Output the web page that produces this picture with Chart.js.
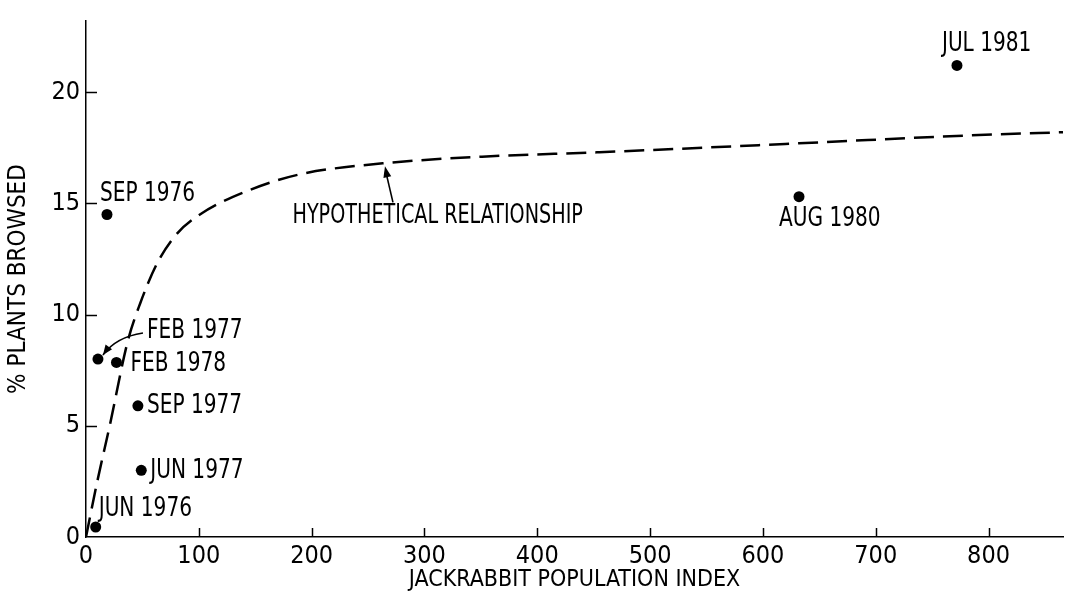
<!DOCTYPE html>
<html><head><meta charset="utf-8">
<script src="https://cdn.jsdelivr.net/npm/chart.js@4.4.1/dist/chart.umd.min.js"></script>
<style>html,body{margin:0;padding:0;background:#fff;}#wrap{width:1069px;height:614px;}</style>
</head><body><div id="wrap"><canvas id="c" width="1069" height="614"></canvas></div>
<script>
// ---- data ----
const pointLabels = ['JUN 1976', 'SEP 1976', 'FEB 1977', 'FEB 1978', 'SEP 1977', 'JUN 1977', 'AUG 1980', 'JUL 1981'];
const pointX = [8.6, 18.6, 10.6, 27, 46, 49, 632, 772];
const pointY = [0.45, 14.5, 8.0, 7.85, 5.9, 3.0, 15.3, 21.2];
const curveX = [0, 10, 21, 37, 48, 63, 80, 101, 145, 189, 263, 351, 455, 632, 780, 866];
const curveY = [0, 2.5, 5.0, 8.8, 10.5, 12.3, 13.6, 14.5, 15.6, 16.3, 16.8, 17.1, 17.3, 17.7, 18.05, 18.2];
const xTickValues = [0, 100, 200, 300, 400, 500, 600, 700, 800];
const yTickValues = [0, 5, 10, 15, 20];
const curveLabel = 'HYPOTHETICAL RELATIONSHIP';
const xTitle = 'JACKRABBIT POPULATION INDEX';
const yTitle = '% PLANTS BROWSED';

const FONT = "'Liberation Sans Narrow','DejaVu Sans Condensed','Liberation Sans',sans-serif";

function arrowHead(ctx, x, y, ang, len, w) {
  ctx.beginPath();
  ctx.moveTo(x, y);
  ctx.lineTo(x - len * Math.cos(ang) + w * Math.sin(ang), y - len * Math.sin(ang) - w * Math.cos(ang));
  ctx.lineTo(x - len * Math.cos(ang) - w * Math.sin(ang), y - len * Math.sin(ang) + w * Math.cos(ang));
  ctx.closePath();
  ctx.fill();
}

function narrowText(ctx, text, x, y, sx) {
  ctx.save();
  ctx.translate(x, y);
  ctx.scale(sx, 1);
  ctx.fillText(text, 0, 0);
  ctx.restore();
}

const inwardTicks = {
  id: 'inwardTicks',
  afterDraw(chart) {
    const {ctx, scales: {x, y}, chartArea: a} = chart;
    ctx.save();
    ctx.strokeStyle = '#000';
    ctx.lineWidth = 1.5;
    x.ticks.forEach(t => {
      if (t.value === 0) return;
      const px = Math.round(x.getPixelForValue(t.value)) + 0.5;
      ctx.beginPath(); ctx.moveTo(px, a.bottom); ctx.lineTo(px, a.bottom - 9); ctx.stroke();
    });
    y.ticks.forEach(t => {
      if (t.value === 0) return;
      const py = Math.round(y.getPixelForValue(t.value)) + 0.5;
      ctx.beginPath(); ctx.moveTo(a.left, py); ctx.lineTo(a.left + 11, py); ctx.stroke();
    });
    ctx.restore();
  }
};

const labelOffsets = {
  'JUN 1976': [3, -18], 'SEP 1976': [-7, -20], 'FEB 1977': [49, -28], 'FEB 1978': [14, 2],
  'SEP 1977': [9, 0], 'JUN 1977': [9, 1], 'AUG 1980': [-20, 23], 'JUL 1981': [-15, -21]
};

const annotations = {
  id: 'annotations',
  afterDatasetsDraw(chart) {
    const {ctx, scales: {x, y}} = chart;
    ctx.save();
    ctx.fillStyle = '#000';
    ctx.strokeStyle = '#000';
    ctx.font = '26px ' + FONT;
    ctx.textAlign = 'left';
    ctx.textBaseline = 'middle';
    pointLabels.forEach((lab, i) => {
      const px = x.getPixelForValue(pointX[i]);
      const py = y.getPixelForValue(pointY[i]);
      const o = labelOffsets[lab];
      narrowText(ctx, lab, px + o[0], py + o[1], 0.86);
    });
    // Feb 1977 curved arrow
    const fi = pointLabels.indexOf('FEB 1977');
    const fx = x.getPixelForValue(pointX[fi]), fy = y.getPixelForValue(pointY[fi]);
    const sx = fx + 45, sy = fy - 26, cx = fx + 18, cy = fy - 22, tx = fx + 5, ty = fy - 4;
    ctx.lineWidth = 1.6;
    ctx.beginPath(); ctx.moveTo(sx, sy); ctx.quadraticCurveTo(cx, cy, tx, ty); ctx.stroke();
    arrowHead(ctx, tx, ty, Math.atan2(ty - cy, tx - cx), 10, 4);
    // curve label + arrow
    const ax = x.getPixelForValue(265), ay = y.getPixelForValue(16.8) + 3;
    ctx.beginPath(); ctx.moveTo(ax + 8, ay + 36); ctx.lineTo(ax + 1, ay + 6); ctx.stroke();
    arrowHead(ctx, ax, ay, Math.atan2(-36, -8), 11, 4);
    narrowText(ctx, curveLabel, x.getPixelForValue(183), y.getPixelForValue(14.4), 0.82);
    ctx.restore();
  }
};

new Chart(document.getElementById('c'), {
  type: 'scatter',
  data: {
    datasets: [
      {
        data: pointX.map((v, i) => ({x: v, y: pointY[i]})),
        pointRadius: 5.5, pointHoverRadius: 5.5,
        backgroundColor: '#000', borderColor: '#000', borderWidth: 0, showLine: false
      },
      {
        data: curveX.map((v, i) => ({x: v, y: curveY[i]})),
        showLine: true, pointRadius: 0, borderColor: '#000', borderWidth: 2.5,
        borderDash: [20, 9], cubicInterpolationMode: 'monotone', fill: false
      }
    ]
  },
  options: {
    responsive: false, animation: false, events: [],
    layout: {padding: {top: 10, right: 6, left: 0, bottom: 0}},
    plugins: {legend: {display: false}, tooltip: {enabled: false}},
    scales: {
      x: {
        type: 'linear', min: 0, max: 866,
        afterBuildTicks: s => { s.ticks = xTickValues.map(v => ({value: v})); },
        afterFit: s => { s.height = 77; },
        grid: {display: false, drawTicks: false},
        border: {display: true, color: '#000', width: 1.5},
        ticks: {color: '#000', font: {family: FONT, size: 25}, padding: 4, maxRotation: 0, autoSkip: false},
        title: {display: true, text: xTitle, color: '#000', font: {family: FONT, size: 23}, padding: {top: 0, bottom: 20}}
      },
      y: {
        type: 'linear', min: 0, max: 23.2,
        afterBuildTicks: s => { s.ticks = yTickValues.map(v => ({value: v})); },
        afterFit: s => { s.width = 86; },
        grid: {display: false, drawTicks: false},
        border: {display: true, color: '#000', width: 1.5},
        ticks: {color: '#000', font: {family: FONT, size: 25}, padding: 6},
        title: {display: true, text: yTitle, color: '#000', font: {family: FONT, size: 24}, padding: {top: 4, bottom: 0}}
      }
    }
  },
  plugins: [inwardTicks, annotations]
});
</script></body></html>
